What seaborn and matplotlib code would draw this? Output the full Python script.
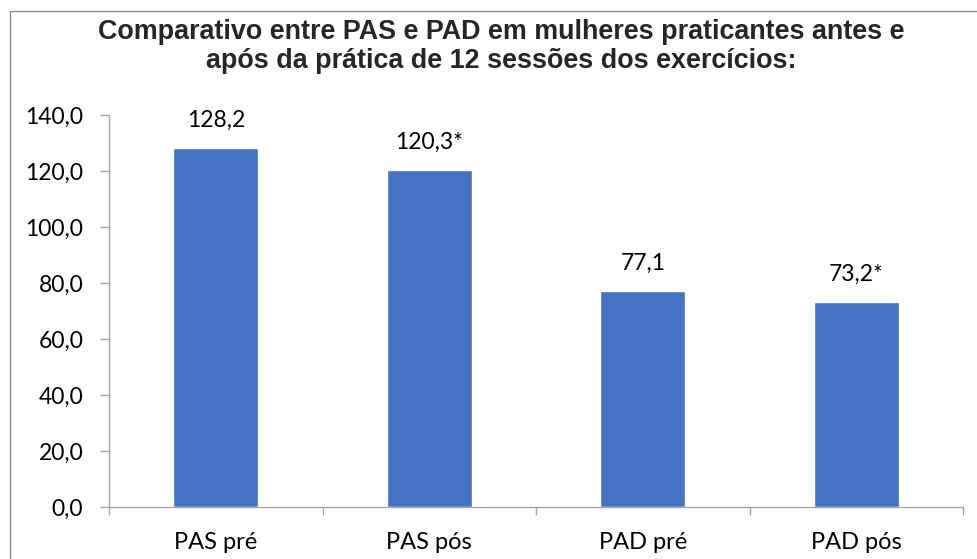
import matplotlib
matplotlib.use("Agg")
import matplotlib.pyplot as plt
import matplotlib.patches as patches
from matplotlib.ticker import FuncFormatter, FixedLocator
import seaborn as sns
import pandas as pd

categorias = ["PAS pré", "PAS pós", "PAD pré", "PAD pós"]
valores = [128.2, 120.3, 77.1, 73.2]
rotulos = ["128,2", "120,3*", "77,1", "73,2*"]
titulo = ("Comparativo entre PAS e PAD em mulheres praticantes antes e\n"
          "após da prática de 12 sessões dos exercícios:")

df = pd.DataFrame({"cat": categorias, "val": valores})

sns.set_theme(style="white")
plt.rcParams['font.family'] = ['Lato', 'DejaVu Sans']

fig = plt.figure(figsize=(9.77, 5.59), dpi=100)
ax = fig.add_axes([109/977, 52/559, (963-109)/977, (507-115)/559])

sns.barplot(data=df, x="cat", y="val", color="#4472C4", saturation=1,
            width=0.4, ax=ax)

# rótulos de valor acima das barras
for i, (v, t) in enumerate(zip(valores, rotulos)):
    ax.annotate(t, (i, v), xytext=(0, 12.5), textcoords="offset points",
                ha="center", va="bottom", fontsize=16.5, color="black")

ax.set_ylim(0, 140)
ax.set_xlim(-0.5, 3.5)
ax.set_yticks(range(0, 141, 20))
ax.yaxis.set_major_formatter(FuncFormatter(lambda y, p: f"{y:.1f}".replace(".", ",")))
ax.xaxis.set_minor_locator(FixedLocator([-0.5, 0.5, 1.5, 2.5, 3.5]))
ax.set_xlabel(None)
ax.set_ylabel(None)

for s in ["top", "right"]:
    ax.spines[s].set_visible(False)
for s in ["left", "bottom"]:
    ax.spines[s].set_color("#a6a6a6")
    ax.spines[s].set_linewidth(1)

ax.tick_params(axis="y", which="major", left=True, length=6.5, width=1,
               color="#a6a6a6", pad=12, labelsize=16.5, labelcolor="black")
ax.tick_params(axis="x", which="major", bottom=False, length=0, pad=18,
               labelsize=17, labelcolor="black")
ax.tick_params(axis="x", which="minor", bottom=True, length=6, width=1,
               color="#a6a6a6")

fig.text(501/977, 1 - 19/559, titulo, ha="center", va="top", fontsize=19.4,
         fontweight="bold", family=["Liberation Sans", "DejaVu Sans"],
         linespacing=1.15)

borda = patches.Rectangle((10/977, -0.05), 1.1, 548/559 + 0.05,
                          transform=fig.transFigure, fill=False,
                          edgecolor="#8c8c8c", linewidth=1)
fig.patches.append(borda)

fig.savefig("out.png", dpi=100)
